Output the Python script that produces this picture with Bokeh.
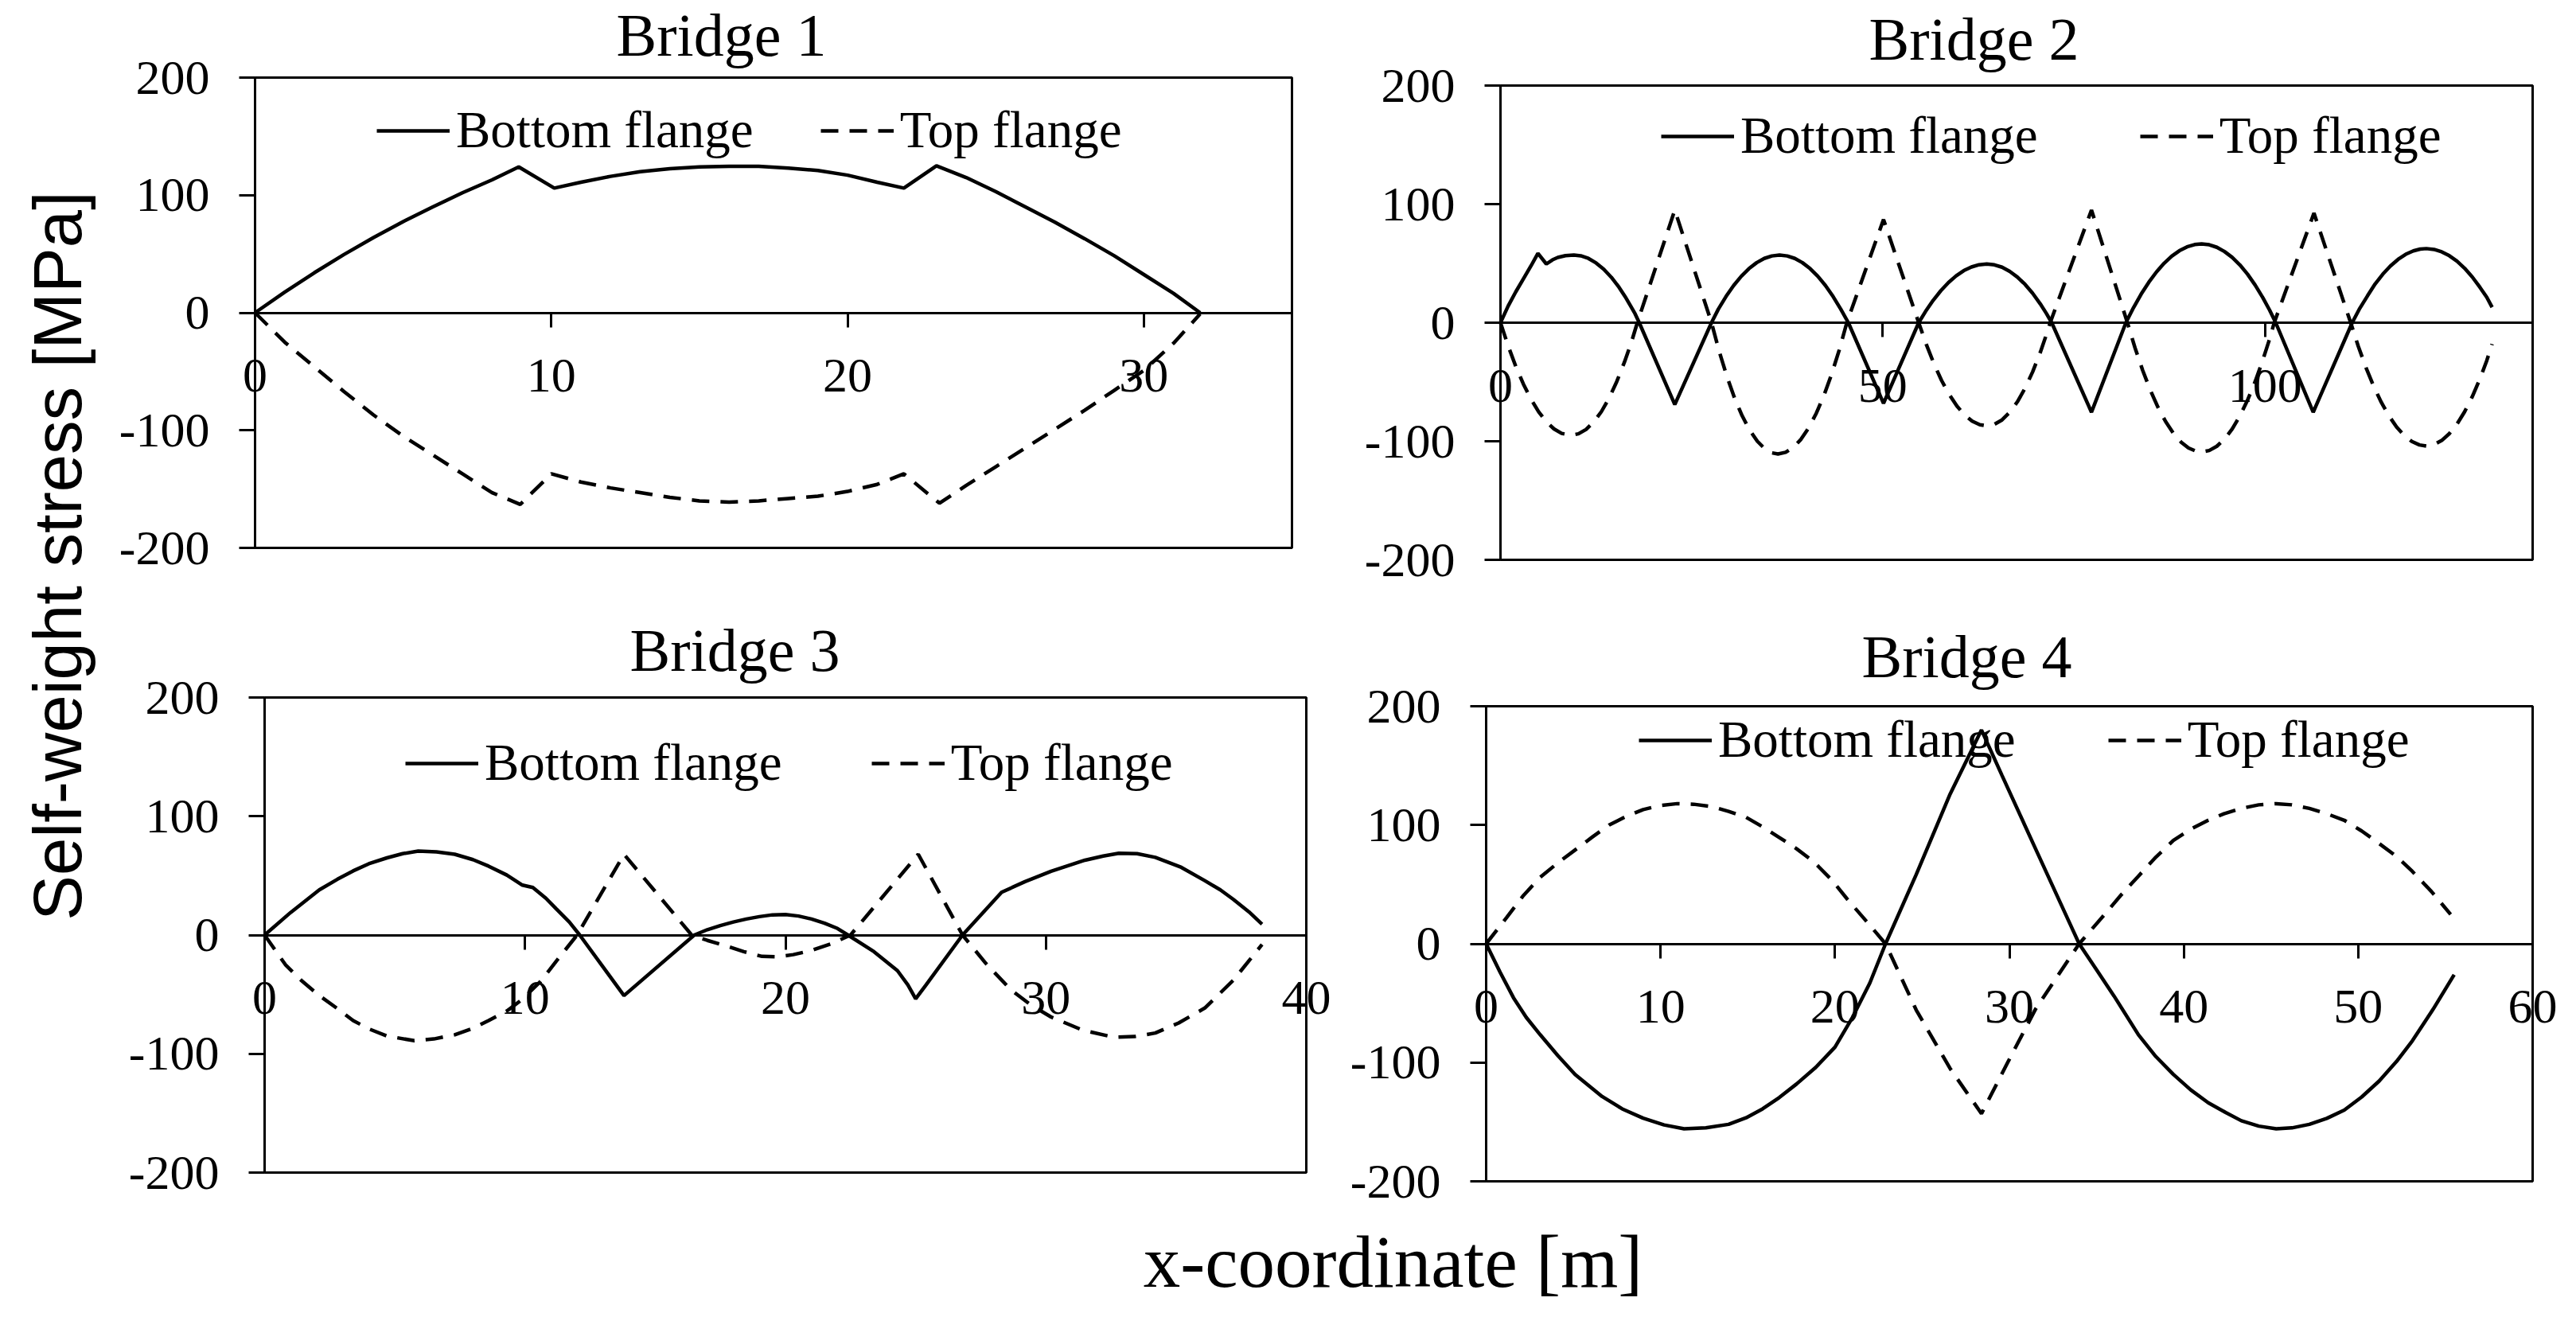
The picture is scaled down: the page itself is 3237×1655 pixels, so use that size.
import math
from bokeh.plotting import figure
from bokeh.models import Range1d, FixedTicker, Label, LinearAxis, BoxAnnotation
from bokeh.layouts import row, column
from bokeh.embed import file_html
from bokeh.resources import INLINE

# ---------------- data ----------------
panel_titles = ["Bridge 1", "Bridge 2", "Bridge 3", "Bridge 4"]
series_names = ["Bottom flange", "Top flange"]
y_ticks = [-200, -100, 0, 100, 200]
x_max = [35, 135, 40, 60]

b1_x_bot = [0, 1, 2, 3, 4, 5, 6, 7, 8, 8.9, 10.1, 11, 12, 13, 14, 15, 16, 17, 18, 19,
            20, 21, 21.9, 23.0, 24, 25, 26, 27, 28, 29, 30, 31, 31.9]
b1_bot = [0, 17.5, 34, 49.5, 64, 77.5, 90, 102, 113, 124, 106, 111, 116, 120, 122.5, 124, 124.5, 124.5, 123, 121,
          117, 111, 106, 125, 115, 103, 90, 77, 63, 48.5, 32.5, 16.5, 0]
b1_x_top = [0, 1, 2, 3, 4, 5, 6, 7, 8, 8.95, 10.0, 11, 12, 13, 14, 15, 16, 17, 18, 19,
            20, 21, 21.9, 23.1, 24, 25, 26, 27, 28, 29, 30, 31, 31.9]
b1_top = [0, -25, -46, -67, -87, -105, -121, -137, -153, -163, -137, -144, -149, -153, -157, -160, -161, -160, -158, -156,
          -152, -146, -137, -162, -147, -131, -115, -99, -83, -66, -49, -26, -1]
b1_xticks = [0, 10, 20, 30]

b2_x_bot = [0, 1, 2, 3, 4, 4.9, 6.0, 6.8, 7.5, 8.5, 9.6, 10.5, 11.5, 12.5, 13.5, 14.5, 15.5, 16.3, 17, 17.6, 18.15,
            22.8,
            27.6, 28.5, 29.5, 30.5, 31.5, 32.5, 33.5, 34.5, 35.5, 36.5, 37.5, 38.5, 39.5, 40.5, 41.5, 42.5, 43.5, 44.5, 45.5,
            50.1,
            54.7, 55.6, 56.6, 57.6, 58.6, 59.6, 60.6, 61.6, 62.6, 63.6, 64.6, 65.6, 66.6, 67.6, 68.6, 69.6, 70.6, 71.4, 72.1,
            77.3,
            81.8, 82.8, 83.8, 84.8, 85.8, 86.8, 87.8, 88.8, 89.8, 90.8, 91.7, 92.7, 93.7, 94.7, 95.7, 96.7, 97.7, 98.7, 99.7,
            100.6, 101.4,
            106.3,
            111.4, 112.4, 113.4, 114.4, 115.4, 116.4, 117.4, 118.4, 119.4, 120.3, 121.1, 122.1, 123.1, 124.1, 125.1, 126.1,
            127.1, 128.1, 129, 129.7]
b2_bot = [0, 14, 26, 37, 48, 58.5, 49.5, 53, 55, 56.5, 57, 56.4, 54.2, 50.4, 45.1, 38.3, 29.9, 22, 14.3, 7.6, 0,
          -69,
          0, 11.5, 22.1, 31.4, 39.2, 45.6, 50.6, 54.2, 56.3, 57, 56.3, 54.2, 50.6, 45.6, 39.2, 31.4, 22.1, 11.5, 0,
          -68,
          0, 9.5, 18.9, 27, 33.9, 39.5, 43.9, 47, 48.9, 49.5, 48.8, 46.8, 43.3, 38.5, 32.4, 24.8, 15.9, 7.8, 0,
          -75.5,
          0, 12.7, 24.1, 34.1, 42.8, 50.1, 56.1, 60.7, 64, 65.9, 66.4, 65.7, 63.6, 60, 55.1, 48.8, 41, 31.8, 21.2,
          10.6, 0,
          -75.5,
          0, 12.2, 22.6, 32.7, 40.9, 47.8, 53.4, 57.7, 60.6, 62.1, 62.5, 61.8, 59.8, 56.5, 51.9, 45.9,
          38.6, 29.9, 21.5, 13]
b2_x_top = [0, 1, 2, 3, 4, 5, 6, 7, 8, 9.2, 10.2, 11.2, 12.2, 13.2, 14.2, 15.2, 16.2, 17.1, 17.9,
            22.8,
            27.6, 28.6, 29.6, 30.6, 31.6, 32.6, 33.6, 34.6, 35.5, 36.3, 37.3, 38.3, 39.3, 40.3, 41.3, 42.3, 43.3, 44.3, 45.3,
            50.1,
            54.7, 55.7, 56.7, 57.7, 58.7, 59.7, 60.7, 61.7, 62.7, 63.6, 64.6, 65.6, 66.6, 67.6, 68.6, 69.6, 70.6, 71.3, 71.9,
            77.3,
            82, 83, 84, 85, 86, 87, 88, 89, 90, 91, 91.7, 92.7, 93.7, 94.7, 95.7, 96.7, 97.7, 98.7, 99.7, 100.5, 101.2,
            106.4,
            111.2, 112.2, 113.2, 114.2, 115.2, 116.2, 117.2, 118.2, 119.2, 120.2, 121.1, 122.1, 123.1, 124.1, 125.1,
            126.1, 127.1, 128.1, 129, 129.7]
b2_top = [0, -19.5, -36.8, -51.8, -64.6, -75.2, -83.5, -89.6, -93.4, -95, -93.7, -90, -83.7, -75, -63.7, -49.8, -33.5, -17, 0,
          95,
          0, -24, -45, -63.2, -78.4, -90.7, -100, -106.5, -109.8, -110.7, -109.3, -105.2, -98.4, -88.8, -76.5, -61.5, -43.7, -23.2, 0,
          87,
          0, -18.4, -34.7, -48.8, -60.6, -70.3, -77.8, -83, -86.1, -87, -85.7, -82, -75.6, -66.8, -55.4, -41.5, -25.1, -12, 0,
          95,
          0, -21.3, -40.3, -57, -71.4, -83.4, -93.1, -100.6, -105.7, -108.4, -109, -107.8, -104.2, -98.1, -89.7, -78.8, -65.5,
          -49.8, -31.7, -15.7, 0,
          92.4,
          0, -20, -37.8, -53.5, -67.1, -78.5, -87.9, -95.1, -100.2, -103.1, -104, -102.8, -99.4, -93.6, -85.6,
          -75.2, -62.5, -47.5, -32, -18]
b2_xticks = [0, 50, 100]

b3_x_bot = [0, 1, 2.1, 2.8, 3.4, 4.0, 4.7, 5.3, 5.9, 6.6, 7.3, 8.0, 8.6, 9.3, 9.9, 10.3, 10.8, 11.2, 11.7, 12.1,
            13.8,
            16.5, 17, 17.5, 18, 18.5, 19, 19.5, 20, 20.5, 21, 21.5, 22, 22.4,
            23.4, 24.3, 24.7, 25.0, 25.4, 26.8,
            28.3, 29.2, 30.2, 31.5, 32.2, 32.8, 33.5, 34.2, 35.2, 36.1, 36.7, 37.2, 37.8, 38.3]
b3_bot = [0, 19, 38, 47, 54, 60, 65, 68.5, 70.7, 70, 68, 63.5, 58, 50.5, 42, 40, 31, 22, 11, 0,
          -51,
          0, 4.5, 8, 11, 13.5, 15.5, 17, 17.2, 16, 13.5, 10, 5.5, 0,
          -14, -30, -42, -53.7, -42, 0,
          36, 45, 53.7, 63, 66.5, 68.8, 68.5, 65.4, 57, 45.8, 38, 30, 19.5, 9.2]
b3_x_top = [0, 0.8, 1.4, 2.1, 2.8, 3.4, 4.0, 4.7, 5.75, 6.5, 7.3, 8.0, 8.6, 9.3, 9.9, 10.6, 11.2, 12.0,
            13.8,
            16.4, 17.0, 17.7, 18.4, 19.1, 19.7, 20.3, 21, 21.8, 22.5,
            25.1,
            26.8, 27.7, 28.65, 29.4, 30.2, 31.4, 32.6, 33.4, 34.2, 35.1, 36.1, 37.2, 38.3]
b3_top = [0, -25, -38, -51, -62, -72, -79, -85, -89, -87.5, -84, -78.5, -72, -64, -54, -39, -22, 0,
          68,
          0, -4.5, -9, -14, -18, -18.3, -16.5, -13, -7, 0,
          68,
          0, -24, -46, -58.5, -69, -80, -86, -85.5, -82.5, -74, -61.5, -38, -8]
b3_xticks = [0, 10, 20, 30, 40]

b4_x_bot = [0, 0.8, 1.57, 2.3, 3.1, 4.1, 5.1, 6.65, 7.8, 9.0, 10.2, 11.35, 12.6, 13.9, 14.9, 15.85, 16.8, 17.8, 18.9,
            20, 21, 22, 22.9,
            24.66, 26.6, 27.8, 28.4, 29.57, 31.5, 33.5, 34,
            35, 36, 37.4, 38.4, 39.4, 40.4, 41.4, 42.4, 43.3, 44.3, 45.3, 46.2, 47.2, 48.2, 49.2, 50.2, 51.2, 52.2,
            53.1, 54.3, 55.5]
b4_bot = [0, -24, -45.5, -62, -76.6, -94, -110, -128.6, -139, -146.8, -152.5, -155.8, -155, -152, -146.5, -139, -129.5, -118, -104,
          -87, -62, -33, 0,
          58.4, 126, 162, 180, 142, 80, 16, 0,
          -22, -44, -76.6, -95, -110, -123, -133.8, -142, -149, -153.5, -155.8, -155, -152, -147, -140, -129, -115.6, -99,
          -81.8, -55, -26]
b4_x_top = [0, 1.17, 2.1, 3.1, 4.1, 5.1, 6.1, 7.05, 8.0, 9.0, 10.0, 10.96, 11.9, 12.9, 13.9, 14.9, 15.85, 16.8, 17.8,
            18.8, 19.8, 20.7, 21.8, 22.9,
            24.66, 26.6, 28.4, 29.9, 31.5, 33, 34,
            35.46, 36.4, 37.4, 38.4, 39.4, 40.4, 41.4, 42.3, 43.3, 44.3, 45.3, 46.2, 47.2, 48.2, 49.2, 50.2, 51.2, 52.2,
            53.1, 54.2, 55.3]
b4_top = [0, 22, 40, 56, 68, 79, 90, 100, 107, 113, 116.5, 118, 117.5, 115.6, 111.5, 106.5, 98.5, 89.6, 80,
          68.8, 54, 37.7, 19, 0,
          -55.8, -105, -143, -100, -55, -22, 0,
          24.7, 41, 57, 73, 87, 96.5, 104, 109.5, 114, 117, 118, 117, 114, 109.5, 104, 95, 84.4, 73.5,
          61, 44, 24.7]
b4_xticks = [0, 10, 20, 30, 40, 50, 60]

y_axis_title = "Self-weight stress [MPa]"
x_axis_title = "x-coordinate [m]"

# ---------------- layout & styling (page pixels, layout origin at page 0,0) ----------------
SERIF = "Liberation Serif"
SANS = "Liberation Sans"
TICK_FS = "62px"
LINE_W = 4.5
DASH = "22 14"

YFIG_W = 135
SPLIT_TOP = 1685
SPLIT_BOT = 1685
RIGHT = 3230
ROW1_BOTTOM = 756
ROW2_BOTTOM = 1523
TOTAL_H = 1650

# canvas (left, top, width, height) and plot box (left, top, right, bottom)
canvas = [(YFIG_W, 0, SPLIT_TOP - YFIG_W, ROW1_BOTTOM),
          (SPLIT_TOP, 0, RIGHT - SPLIT_TOP, ROW1_BOTTOM),
          (YFIG_W, ROW1_BOTTOM, SPLIT_BOT - YFIG_W, ROW2_BOTTOM - ROW1_BOTTOM),
          (SPLIT_BOT, ROW1_BOTTOM, RIGHT - SPLIT_BOT, ROW2_BOTTOM - ROW1_BOTTOM)]
boxes = [(320, 97, 1623, 688), (1885, 107, 3182, 703), (332, 876, 1641, 1473), (1867, 887, 3182, 1484)]
title_pos = [(906, 70), (2480, 75), (923, 843), (2471, 851)]       # centre x, baseline y
TITLE_MID_SHIFT = 27                                                 # baseline -> middle anchor
legend_pos = [(473, 166), (2087, 173), (509, 961), (2059, 932)]    # left x, centre y
legend_spacing = [84, 128, 112, 116]


def fmt(v):
    return str(int(v)) if float(v).is_integer() else str(v)


def make_panel(i, xb, yb, xt, yt, xticks):
    cx, cy, cw, ch = canvas[i]
    bl, bt, br, bb = boxes[i]
    xmax = x_max[i]
    kx = (br - bl) / xmax
    ky = (bb - bt) / 400.0
    xr = Range1d(-(bl - cx) / kx, xmax + (cx + cw - br) / kx)
    yr = Range1d(-200 - (cy + ch - bb) / ky, 200 + (bt - cy) / ky)

    p = figure(width=cw, height=ch, x_range=xr, y_range=yr,
               output_backend="svg", toolbar_location=None,
               x_axis_location=None, y_axis_location=None, min_border=0)
    p.outline_line_color = None
    p.grid.visible = False
    p.background_fill_color = "white"
    p.border_fill_color = "white"

    p.line(xb, yb, line_color="black", line_width=LINE_W, legend_label=series_names[0])
    p.line(xt, yt, line_color="black", line_width=LINE_W, line_dash=DASH,
           legend_label=series_names[1])

    p.add_layout(BoxAnnotation(left=0, right=xmax, bottom=-200, top=200,
                               fill_color=None, fill_alpha=0,
                               line_color="black", line_width=3, line_alpha=1))

    xa = LinearAxis(fixed_location=0, bounds=(0, xmax), ticker=FixedTicker(ticks=xticks))
    xa.major_label_overrides = {t: fmt(t) for t in xticks}
    xa.major_tick_out = 18
    xa.major_tick_in = 0
    xa.minor_tick_out = 0
    xa.minor_tick_in = 0
    xa.axis_line_width = 3
    xa.major_tick_line_width = 3
    xa.major_label_text_font = SERIF
    xa.major_label_text_font_size = TICK_FS
    xa.major_label_text_color = "black"
    xa.major_label_standoff = 41
    p.add_layout(xa, "below")

    ya = LinearAxis(fixed_location=0, bounds=(-200, 200), ticker=FixedTicker(ticks=y_ticks))
    ya.major_label_overrides = {t: fmt(t) for t in y_ticks}
    ya.major_tick_out = 20
    ya.major_tick_in = 0
    ya.minor_tick_out = 0
    ya.minor_tick_in = 0
    ya.axis_line_width = 3
    ya.major_tick_line_width = 3
    ya.major_label_text_font = SERIF
    ya.major_label_text_font_size = TICK_FS
    ya.major_label_text_color = "black"
    ya.major_label_standoff = 37
    p.add_layout(ya, "left")

    lx, lyc = legend_pos[i]
    leg = p.legend[0]
    leg.location = (lx - cx, (cy + ch) - (lyc + 35))
    leg.orientation = "horizontal"
    leg.padding = 0
    leg.margin = 0
    leg.spacing = legend_spacing[i]
    leg.glyph_width = 92
    leg.glyph_height = 60
    leg.label_height = 60
    leg.label_standoff = 8
    leg.label_text_font = SERIF
    leg.label_text_font_size = "65px"
    leg.label_text_color = "black"
    leg.border_line_alpha = 0
    leg.background_fill_alpha = 0

    tx, ty = title_pos[i]
    p.add_layout(Label(x=tx - cx, y=(cy + ch) - (ty - TITLE_MID_SHIFT), x_units="screen", y_units="screen",
                       text=panel_titles[i], text_align="center", text_baseline="middle",
                       text_font=SERIF, text_font_size="76px", text_color="black"))
    return p


p1 = make_panel(0, b1_x_bot, b1_bot, b1_x_top, b1_top, b1_xticks)
p2 = make_panel(1, b2_x_bot, b2_bot, b2_x_top, b2_top, b2_xticks)
p3 = make_panel(2, b3_x_bot, b3_bot, b3_x_top, b3_top, b3_xticks)
p4 = make_panel(3, b4_x_bot, b4_bot, b4_x_top, b4_top, b4_xticks)


def text_fig(w, h, lx, ly, text, font, size, angle=0.0):
    f = figure(width=w, height=h, x_range=Range1d(0, 1), y_range=Range1d(0, 1),
               output_backend="svg", toolbar_location=None,
               x_axis_location=None, y_axis_location=None, min_border=0)
    f.outline_line_color = None
    f.grid.visible = False
    f.background_fill_color = "white"
    f.border_fill_color = "white"
    f.add_layout(Label(x=lx, y=ly, x_units="screen", y_units="screen", text=text,
                       text_align="center", text_baseline="middle", angle=angle,
                       text_font=font, text_font_size=size, text_color="black"))
    return f


# y title centre at page (72, 698); x title centre at page (1750, 1585)
yfig = text_fig(YFIG_W, TOTAL_H, 72, TOTAL_H - 698, y_axis_title, SANS, "85px", angle=math.pi / 2)
xfig = text_fig(RIGHT - YFIG_W, TOTAL_H - ROW2_BOTTOM, 1750 - YFIG_W, TOTAL_H - 1585, x_axis_title, SERIF, "93px")

layout = row(yfig, column(row(p1, p2), row(p3, p4), xfig))

with open("out.html", "w") as fh:
    fh.write(file_html(layout, INLINE))
